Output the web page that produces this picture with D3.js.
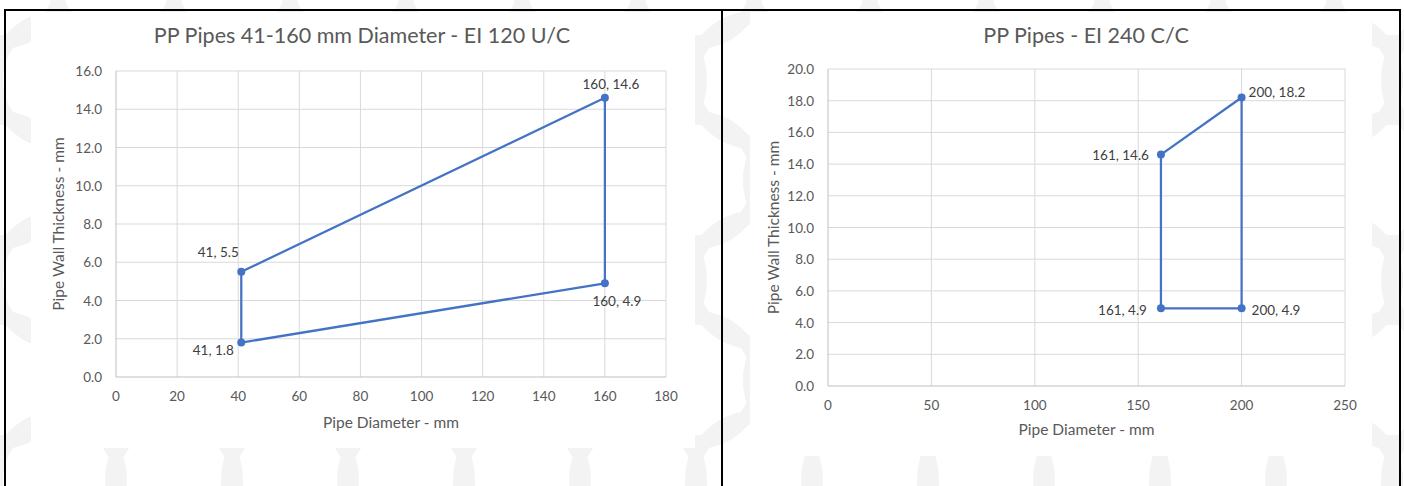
<!DOCTYPE html>
<html>
<head>
<meta charset="utf-8">
<script src="https://cdn.jsdelivr.net/npm/d3@7"></script>
<style>
  body { margin: 0; background: #fff; }
  svg { display: block; font-family: Lato, "Open Sans", sans-serif; }
</style>
</head>
<body>
<svg id="chart" width="1404" height="486"></svg>
<script>
// chart 1 data (closed outline, in drawing order)
const leftX = [41, 160, 160, 41, 41];
const leftY = [5.5, 14.6, 4.9, 1.8, 5.5];
const leftLabels = ["41, 5.5", "160, 14.6", "160, 4.9", "41, 1.8"];
const leftXTicks = [0, 20, 40, 60, 80, 100, 120, 140, 160, 180];
const leftYTicks = [0, 2, 4, 6, 8, 10, 12, 14, 16];

// chart 2 data
const rightX = [161, 200, 200, 161, 161];
const rightY = [14.6, 18.2, 4.9, 4.9, 14.6];
const rightLabels = ["161, 14.6", "200, 18.2", "200, 4.9", "161, 4.9"];
const rightXTicks = [0, 50, 100, 150, 200, 250];
const rightYTicks = [0, 2, 4, 6, 8, 10, 12, 14, 16, 18, 20];

const svg = d3.select("#chart");
const lineColor = "#4472c4";
const textColor = "#595959";

// faint ring watermark behind everything
const bg = svg.append("g");
for (let row = 0; row < 6; row++) {
    for (let col = 0; col < 14; col++) {
        bg.append("circle")
            .attr("cx", col * 116 + (row % 2 ? 58 : 0))
            .attr("cy", row * 100 - 20)
            .attr("r", 62)
            .attr("fill", "none")
            .attr("stroke", "#f3f3f3")
            .attr("stroke-width", 14);
    }
}

function drawChart(o) {
    const g = svg.append("g");

    g.append("rect")
        .attr("x", o.box[0]).attr("y", o.box[1])
        .attr("width", o.box[2]).attr("height", o.box[3])
        .attr("fill", "#fff");

    const x = d3.scaleLinear().domain([0, d3.max(o.xTicks)]).range([o.plot[0], o.plot[1]]);
    const y = d3.scaleLinear().domain([0, d3.max(o.yTicks)]).range([o.plot[3], o.plot[2]]);

    // gridlines
    g.selectAll(".vg").data(o.xTicks.slice(1)).join("line")
        .attr("x1", d => x(d)).attr("x2", d => x(d))
        .attr("y1", y.range()[0]).attr("y2", y.range()[1])
        .attr("stroke", "#d9d9d9").attr("stroke-width", 1);
    g.selectAll(".hg").data(o.yTicks.slice(1)).join("line")
        .attr("x1", x.range()[0]).attr("x2", x.range()[1])
        .attr("y1", d => y(d)).attr("y2", d => y(d))
        .attr("stroke", "#d9d9d9").attr("stroke-width", 1);

    // axes lines
    g.append("line")
        .attr("x1", x.range()[0]).attr("x2", x.range()[1])
        .attr("y1", y(0)).attr("y2", y(0))
        .attr("stroke", "#bfbfbf").attr("stroke-width", 1);
    g.append("line")
        .attr("x1", x(0)).attr("x2", x(0))
        .attr("y1", y.range()[0]).attr("y2", y.range()[1])
        .attr("stroke", "#bfbfbf").attr("stroke-width", 1);

    // tick labels
    g.selectAll(".xt").data(o.xTicks).join("text")
        .attr("x", d => x(d)).attr("y", y(0) + 24)
        .attr("text-anchor", "middle")
        .attr("font-size", 13.5).attr("fill", textColor)
        .text(d => d);
    g.selectAll(".yt").data(o.yTicks).join("text")
        .attr("x", x(0) - 14).attr("y", d => y(d) + 5)
        .attr("text-anchor", "end")
        .attr("font-size", 13.5).attr("fill", textColor)
        .text(d => d3.format(".1f")(d));

    // titles
    g.append("text")
        .attr("x", o.titleX).attr("y", 43)
        .attr("text-anchor", "middle")
        .attr("font-size", 21.5).attr("fill", textColor)
        .text(o.title);
    g.append("text")
        .attr("x", (x.range()[0] + x.range()[1]) / 2).attr("y", o.xTitleY)
        .attr("text-anchor", "middle")
        .attr("font-size", 15.5).attr("fill", textColor)
        .text("Pipe Diameter - mm");
    g.append("text")
        .attr("transform", `translate(${o.yTitleX},${(y.range()[0] + y.range()[1]) / 2}) rotate(-90)`)
        .attr("text-anchor", "middle")
        .attr("font-size", 15.5).attr("fill", textColor)
        .text("Pipe Wall Thickness - mm");

    // outline
    const pts = o.xs.map((d, i) => [d, o.ys[i]]);
    g.append("path")
        .attr("d", d3.line().x(d => x(d[0])).y(d => y(d[1]))(pts))
        .attr("fill", "none")
        .attr("stroke", lineColor)
        .attr("stroke-width", 2.25)
        .attr("stroke-linejoin", "round");

    // markers and labels
    const marks = pts.slice(0, -1);
    g.selectAll(".pt").data(marks).join("circle")
        .attr("cx", d => x(d[0])).attr("cy", d => y(d[1]))
        .attr("r", 4)
        .attr("fill", lineColor);
    g.selectAll(".lb").data(marks).join("text")
        .attr("x", (d, i) => x(d[0]) + o.labelPos[i][0])
        .attr("y", (d, i) => y(d[1]) + o.labelPos[i][1])
        .attr("text-anchor", (d, i) => o.labelPos[i][2])
        .attr("font-size", 13.5).attr("fill", "#404040")
        .text((d, i) => o.labels[i]);
}

drawChart({
    box: [31, 12, 664, 436],
    plot: [116, 666, 71, 377],
    xs: leftX, ys: leftY, labels: leftLabels,
    xTicks: leftXTicks, yTicks: leftYTicks,
    title: "PP Pipes 41-160 mm Diameter - EI 120 U/C",
    titleX: 362, xTitleY: 428, yTitleX: 64,
    labelPos: [[-23, -15, "middle"], [6, -9, "middle"], [12, 23, "middle"], [-28, 12, "middle"]]
});

drawChart({
    box: [750, 12, 622, 444],
    plot: [828, 1345, 69, 386],
    xs: rightX, ys: rightY, labels: rightLabels,
    xTicks: rightXTicks, yTicks: rightYTicks,
    title: "PP Pipes - EI 240 C/C",
    titleX: 1086, xTitleY: 435, yTitleX: 779,
    labelPos: [[-12, 5, "end"], [7, -1, "start"], [10, 7, "start"], [-14, 7, "end"]]
});

// black frame
const frame = svg.append("g").attr("stroke", "#000").attr("stroke-width", 2).attr("fill", "none");
frame.append("path").attr("d", "M5,486 V10 H1400 V486");
frame.append("line").attr("x1", 722).attr("x2", 722).attr("y1", 10).attr("y2", 486);
</script>
</body>
</html>
